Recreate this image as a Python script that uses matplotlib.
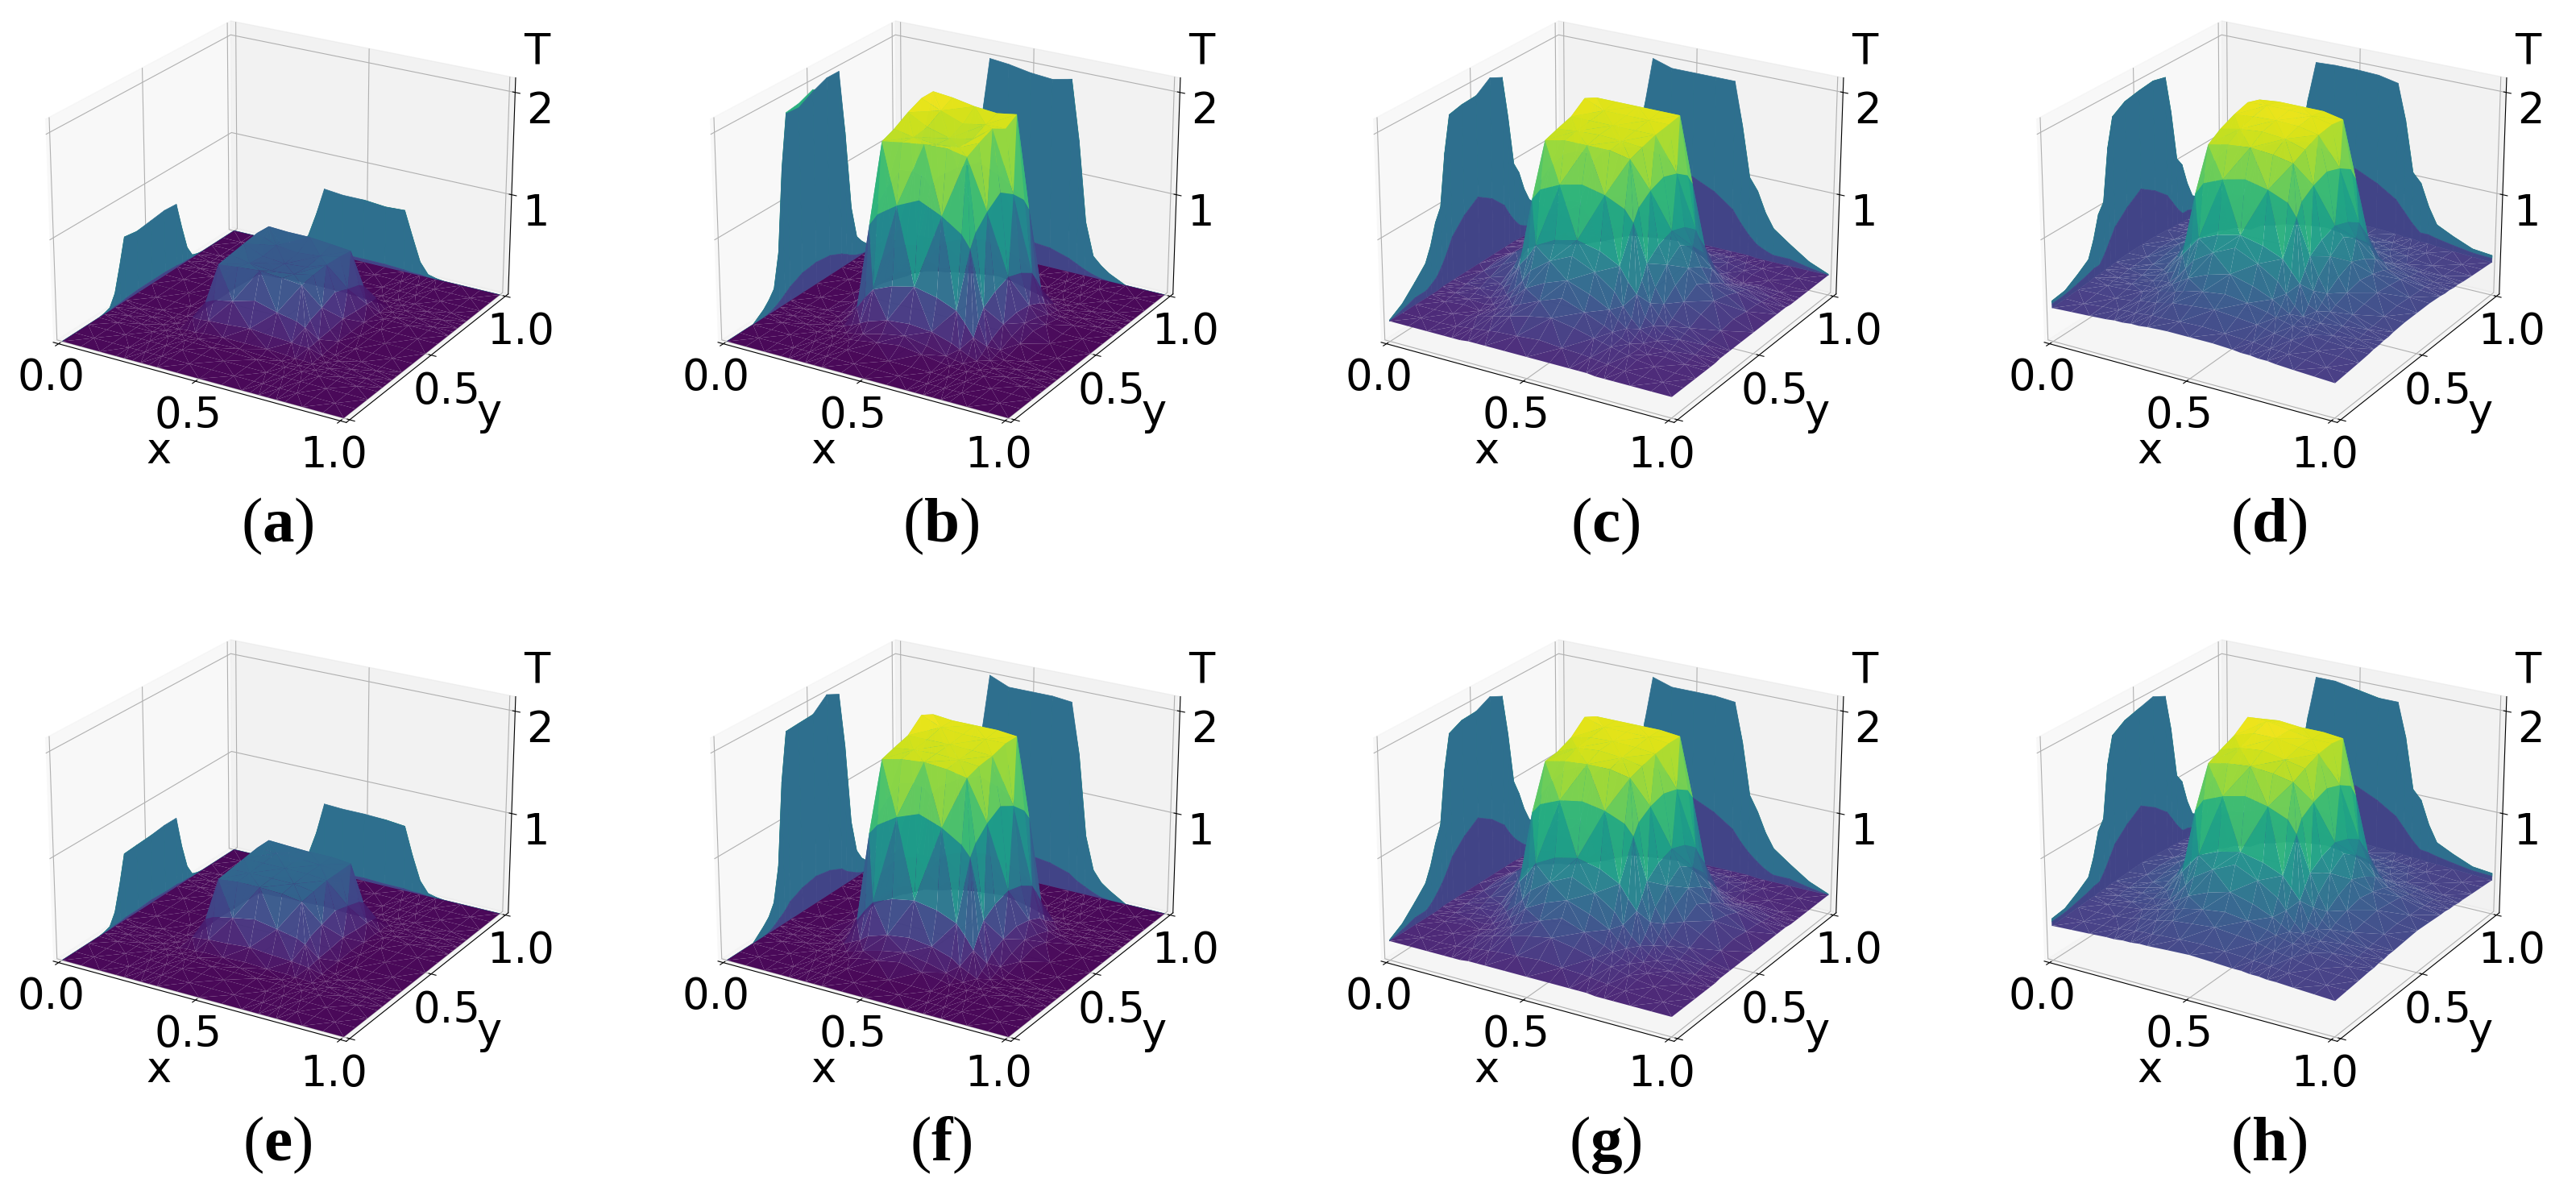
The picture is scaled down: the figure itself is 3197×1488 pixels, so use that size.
import numpy as np
import matplotlib
matplotlib.use("Agg")
import matplotlib.pyplot as plt

plt.rcParams['font.family'] = ['DejaVu Sans']
plt.rcParams['mathtext.fontset'] = 'custom'
plt.rcParams['mathtext.rm'] = 'Liberation Serif'
plt.rcParams['mathtext.bf'] = 'Liberation Serif:bold'
plt.rcParams['grid.linewidth'] = 0.8

# mesh lines from the edge to the centre, the other half is mirrored
half_nodes = [0, .07, .14, .20, .23, .26, .29, .32, .35, .42, .5]

# T. rows_*[i] = T at x=half_nodes[i], y=half_nodes[i:]
rows_a = [[0]*11, [0]*10, [0]*9, [0]*8,
          [0, 0, 0, 0, 0, 0, .01],
          [0, .01, .01, .02, .03, .03],
          [.10, .10, .11, .12, .14],
          [.24, .28, .32, .38]]
rows_b = [[0]*11, [0]*10, [0]*9,
          [0, 0, 0, 0, .01, .02, .05, .08],
          [0, .01, .02, .03, .05, .10, .14],
          [.03, .06, .10, .14, .20, .22],
          [.20, .32, .42, .50, .55],
          [1.00, 1.12, 1.25, 1.35]]
rows_c = [[.20, .20, .20, .20, .20, .20, .21, .21, .21, .21, .21],
          [.20, .20, .21, .22, .23, .24, .25, .26, .27, .29],
          [.21, .23, .25, .27, .29, .31, .33, .38, .42],
          [.21, .24, .27, .30, .34, .38, .46, .54],
          [.26, .30, .36, .42, .50, .60, .68],
          [.34, .42, .52, .64, .78, .88],
          [.62, .72, .85, .95, 1.00],
          [1.25, 1.36, 1.45, 1.50]]
rows_d = [[.33, .34, .35, .36, .37, .37, .38, .38, .39, .40, .40],
          [.34, .36, .37, .38, .38, .39, .40, .40, .41, .42],
          [.36, .38, .40, .41, .42, .44, .46, .48, .50],
          [.40, .42, .44, .46, .48, .51, .55, .58],
          [.42, .46, .50, .55, .60, .68, .74],
          [.46, .54, .64, .74, .86, .96],
          [.72, .82, .92, 1.00, 1.05],
          [1.30, 1.42, 1.50, 1.55]]
rows_e = [[0]*11, [0]*10, [0]*9, [0]*8,
          [0, 0, 0, 0, 0, 0, .01],
          [0, .01, .01, .02, .02, .03],
          [.09, .10, .11, .12, .14],
          [.26, .30, .34, .38]]
rows_f = [[0]*11, [0]*10, [0]*9,
          [0, 0, 0, 0, .01, .03, .06, .10],
          [0, .01, .02, .04, .07, .12, .16],
          [.04, .08, .12, .18, .24, .27],
          [.26, .38, .48, .56, .60],
          [1.10, 1.20, 1.32, 1.40]]
rows_g = [[.19, .19, .19, .19, .19, .19, .20, .20, .20, .20, .20],
          [.19, .19, .20, .21, .22, .23, .24, .25, .26, .28],
          [.20, .22, .24, .26, .28, .30, .32, .37, .41],
          [.21, .23, .26, .29, .33, .37, .45, .53],
          [.26, .30, .35, .41, .49, .59, .67],
          [.36, .43, .52, .63, .76, .86],
          [.64, .74, .86, .96, 1.01],
          [1.30, 1.40, 1.48, 1.52]]
rows_h = [[.34, .35, .36, .37, .37, .38, .38, .39, .39, .40, .41],
          [.35, .36, .37, .38, .39, .40, .40, .41, .42, .43],
          [.37, .39, .41, .42, .43, .45, .47, .49, .51],
          [.41, .43, .45, .47, .49, .52, .56, .59],
          [.43, .47, .51, .56, .61, .69, .75],
          [.48, .56, .66, .76, .88, .98],
          [.74, .84, .94, 1.02, 1.07],
          [1.32, 1.44, 1.52, 1.57]]

# plateau, x and y = .35 .42 .5 .58 .65
top_a = [[.60, .62, .64, .66, .65],
         [.62, .58, .56, .58, .64],
         [.64, .56, .54, .56, .64],
         [.62, .58, .56, .58, .62],
         [.60, .62, .63, .62, .60]]
top_b = [[1.79, 1.84, 1.92, 1.98, 1.98],
         [1.82, 1.80, 1.82, 1.90, 1.96],
         [1.85, 1.78, 1.76, 1.82, 1.92],
         [1.86, 1.80, 1.80, 1.86, 1.90],
         [1.82, 1.88, 1.94, 1.86, 1.93]]
top_c = [[1.80, 1.84, 1.88, 1.98, 1.92],
         [1.84, 1.86, 1.88, 1.90, 1.92],
         [1.84, 1.87, 1.88, 1.90, 1.92],
         [1.84, 1.86, 1.88, 1.90, 1.92],
         [1.80, 1.84, 1.88, 1.90, 1.92]]
top_d = [[1.76, 1.84, 1.90, 1.94, 1.90],
         [1.80, 1.88, 1.92, 1.95, 1.92],
         [1.82, 1.90, 1.93, 1.95, 1.92],
         [1.80, 1.88, 1.92, 1.94, 1.92],
         [1.76, 1.82, 1.88, 1.90, 1.88]]
top_e = [[.64, .66, .68, .70, .70],
         [.66, .67, .68, .69, .69],
         [.66, .67, .68, .69, .68],
         [.65, .67, .68, .68, .68],
         [.62, .64, .66, .66, .66]]
top_f = [[1.80, 1.84, 1.88, 2.00, 1.94],
         [1.84, 1.86, 1.88, 1.92, 1.92],
         [1.86, 1.87, 1.88, 1.90, 1.92],
         [1.84, 1.86, 1.87, 1.90, 1.92],
         [1.80, 1.84, 1.86, 1.90, 1.90]]
top_g = [[1.78, 1.80, 1.86, 1.98, 1.92],
         [1.82, 1.88, 1.90, 1.92, 1.92],
         [1.84, 1.90, 1.91, 1.92, 1.92],
         [1.84, 1.88, 1.90, 1.92, 1.92],
         [1.80, 1.84, 1.88, 1.90, 1.90]]
top_h = [[1.76, 1.82, 1.88, 1.98, 1.90],
         [1.80, 1.88, 1.94, 1.98, 1.92],
         [1.82, 1.90, 1.94, 1.94, 1.90],
         [1.80, 1.86, 1.90, 1.90, 1.90],
         [1.76, 1.82, 1.88, 1.90, 1.88]]

panel_rows = [rows_a, rows_b, rows_c, rows_d, rows_e, rows_f, rows_g, rows_h]
panel_tops = [top_a, top_b, top_c, top_d, top_e, top_f, top_g, top_h]
panel_names = ['a', 'b', 'c', 'd', 'e', 'f', 'g', 'h']
axis_ticks = [0.0, 0.5, 1.0]
x_tick_labels = ['0.0', '0.5', '1.0']
y_tick_labels = ['', '0.5', '1.0']
temp_ticks = [1, 2]

# pixel positions of each panel in the 3197x1488 picture
panel_left = [24, 849, 1672, 2495]
panel_top = [-52, 716]
panel_size = 642
caption_x = [344, 1168, 1992, 2816]
caption_y = [672, 1440]
t_label_x = [666, 1491, 2314, 3137]
t_label_y = [64, 832]

W, H = 3197, 1488
coords = np.array(half_nodes + [1 - v for v in half_nodes[-2::-1]])
n = len(coords)


def fold(i):
    return min(i, n - 1 - i)


def build_grid(rows, top):
    T = np.zeros((n, n))
    for i in range(n):
        for j in range(n):
            if 8 <= i <= 12 and 8 <= j <= 12:
                T[i, j] = top[i - 8][j - 8]
            else:
                a, b = sorted((fold(i), fold(j)))
                T[i, j] = rows[a][b - a]
    return T


def mesh_triangles():
    tris = []
    for i in range(n - 1):
        for j in range(n - 1):
            p, q, r, s = i*n + j, (i + 1)*n + j, (i + 1)*n + j + 1, i*n + j + 1
            if (i + j) % 2 == 0:
                tris += [[p, q, r], [p, r, s]]
            else:
                tris += [[p, q, s], [q, r, s]]
    return tris


tris = mesh_triangles()
viridis = plt.get_cmap('viridis')
# wall bands: nodes on the sweep axis, colour, drawing order
wall_x = [(range(10, 15), .63, 1), (range(5, 11), .36, 2), (range(0, 6), .2, 3)]
wall_y = [(range(6, 11), .63, 1), (range(10, 16), .36, 2), (range(15, 21), .2, 3)]

fig = plt.figure(figsize=(W/100, H/100), dpi=100)

for k in range(8):
    T = build_grid(panel_rows[k], panel_tops[k])
    rect = [panel_left[k % 4]/W, 1 - (panel_top[k // 4] + panel_size)/H, panel_size/W, panel_size/H]
    ax = fig.add_axes(rect, projection='3d', computed_zorder=False)
    ax.view_init(elev=23, azim=-59)
    ax.set_box_aspect((4, 4, 2.83))

    for nodes, c, z in wall_x:
        lo = T[list(nodes), :].min(axis=0)
        hi = T[list(nodes), :].max(axis=0)
        ax.fill_between(0*coords, coords, lo, 0*coords, coords, hi, color=viridis(c),
                        shade=False, mode='quad', linewidth=0.5, zorder=z)
    for nodes, c, z in wall_y:
        lo = T[:, list(nodes)].min(axis=1)
        hi = T[:, list(nodes)].max(axis=1)
        ax.fill_between(coords, 0*coords + 1, lo, coords, 0*coords + 1, hi, color=viridis(c),
                        shade=False, mode='quad', linewidth=0.5, zorder=z)

    X, Y = np.meshgrid(coords, coords, indexing='ij')
    ax.plot_trisurf(X.ravel(), Y.ravel(), T.ravel(), triangles=tris, cmap='viridis',
                    vmin=0, vmax=2, linewidth=0, antialiased=True, alpha=0.97, zorder=5)

    ax.set_xlim(-0.02, 1.02)
    ax.set_ylim(-0.02, 1.02)
    ax.set_zlim(0, 2.14)
    ax.set_xticks(axis_ticks)
    ax.set_xticklabels(x_tick_labels)
    ax.set_yticks(axis_ticks)
    ax.set_yticklabels(y_tick_labels)
    ax.set_zticks(temp_ticks)
    ax.tick_params(labelsize=38, pad=5)
    ax.tick_params(axis='x', pad=1)
    ax.set_xlabel('x', fontsize=38, labelpad=26)
    ax.set_ylabel('y', fontsize=38, labelpad=26)

    fig.text(t_label_x[k % 4]/W, 1 - t_label_y[k // 4]/H, 'T', fontsize=38, ha='center', va='center')
    fig.text(caption_x[k % 4]/W, 1 - caption_y[k // 4]/H, '$(\\mathbf{%s})$' % panel_names[k],
             fontsize=57, ha='center', va='baseline')

fig.savefig('out.png', dpi=100)
